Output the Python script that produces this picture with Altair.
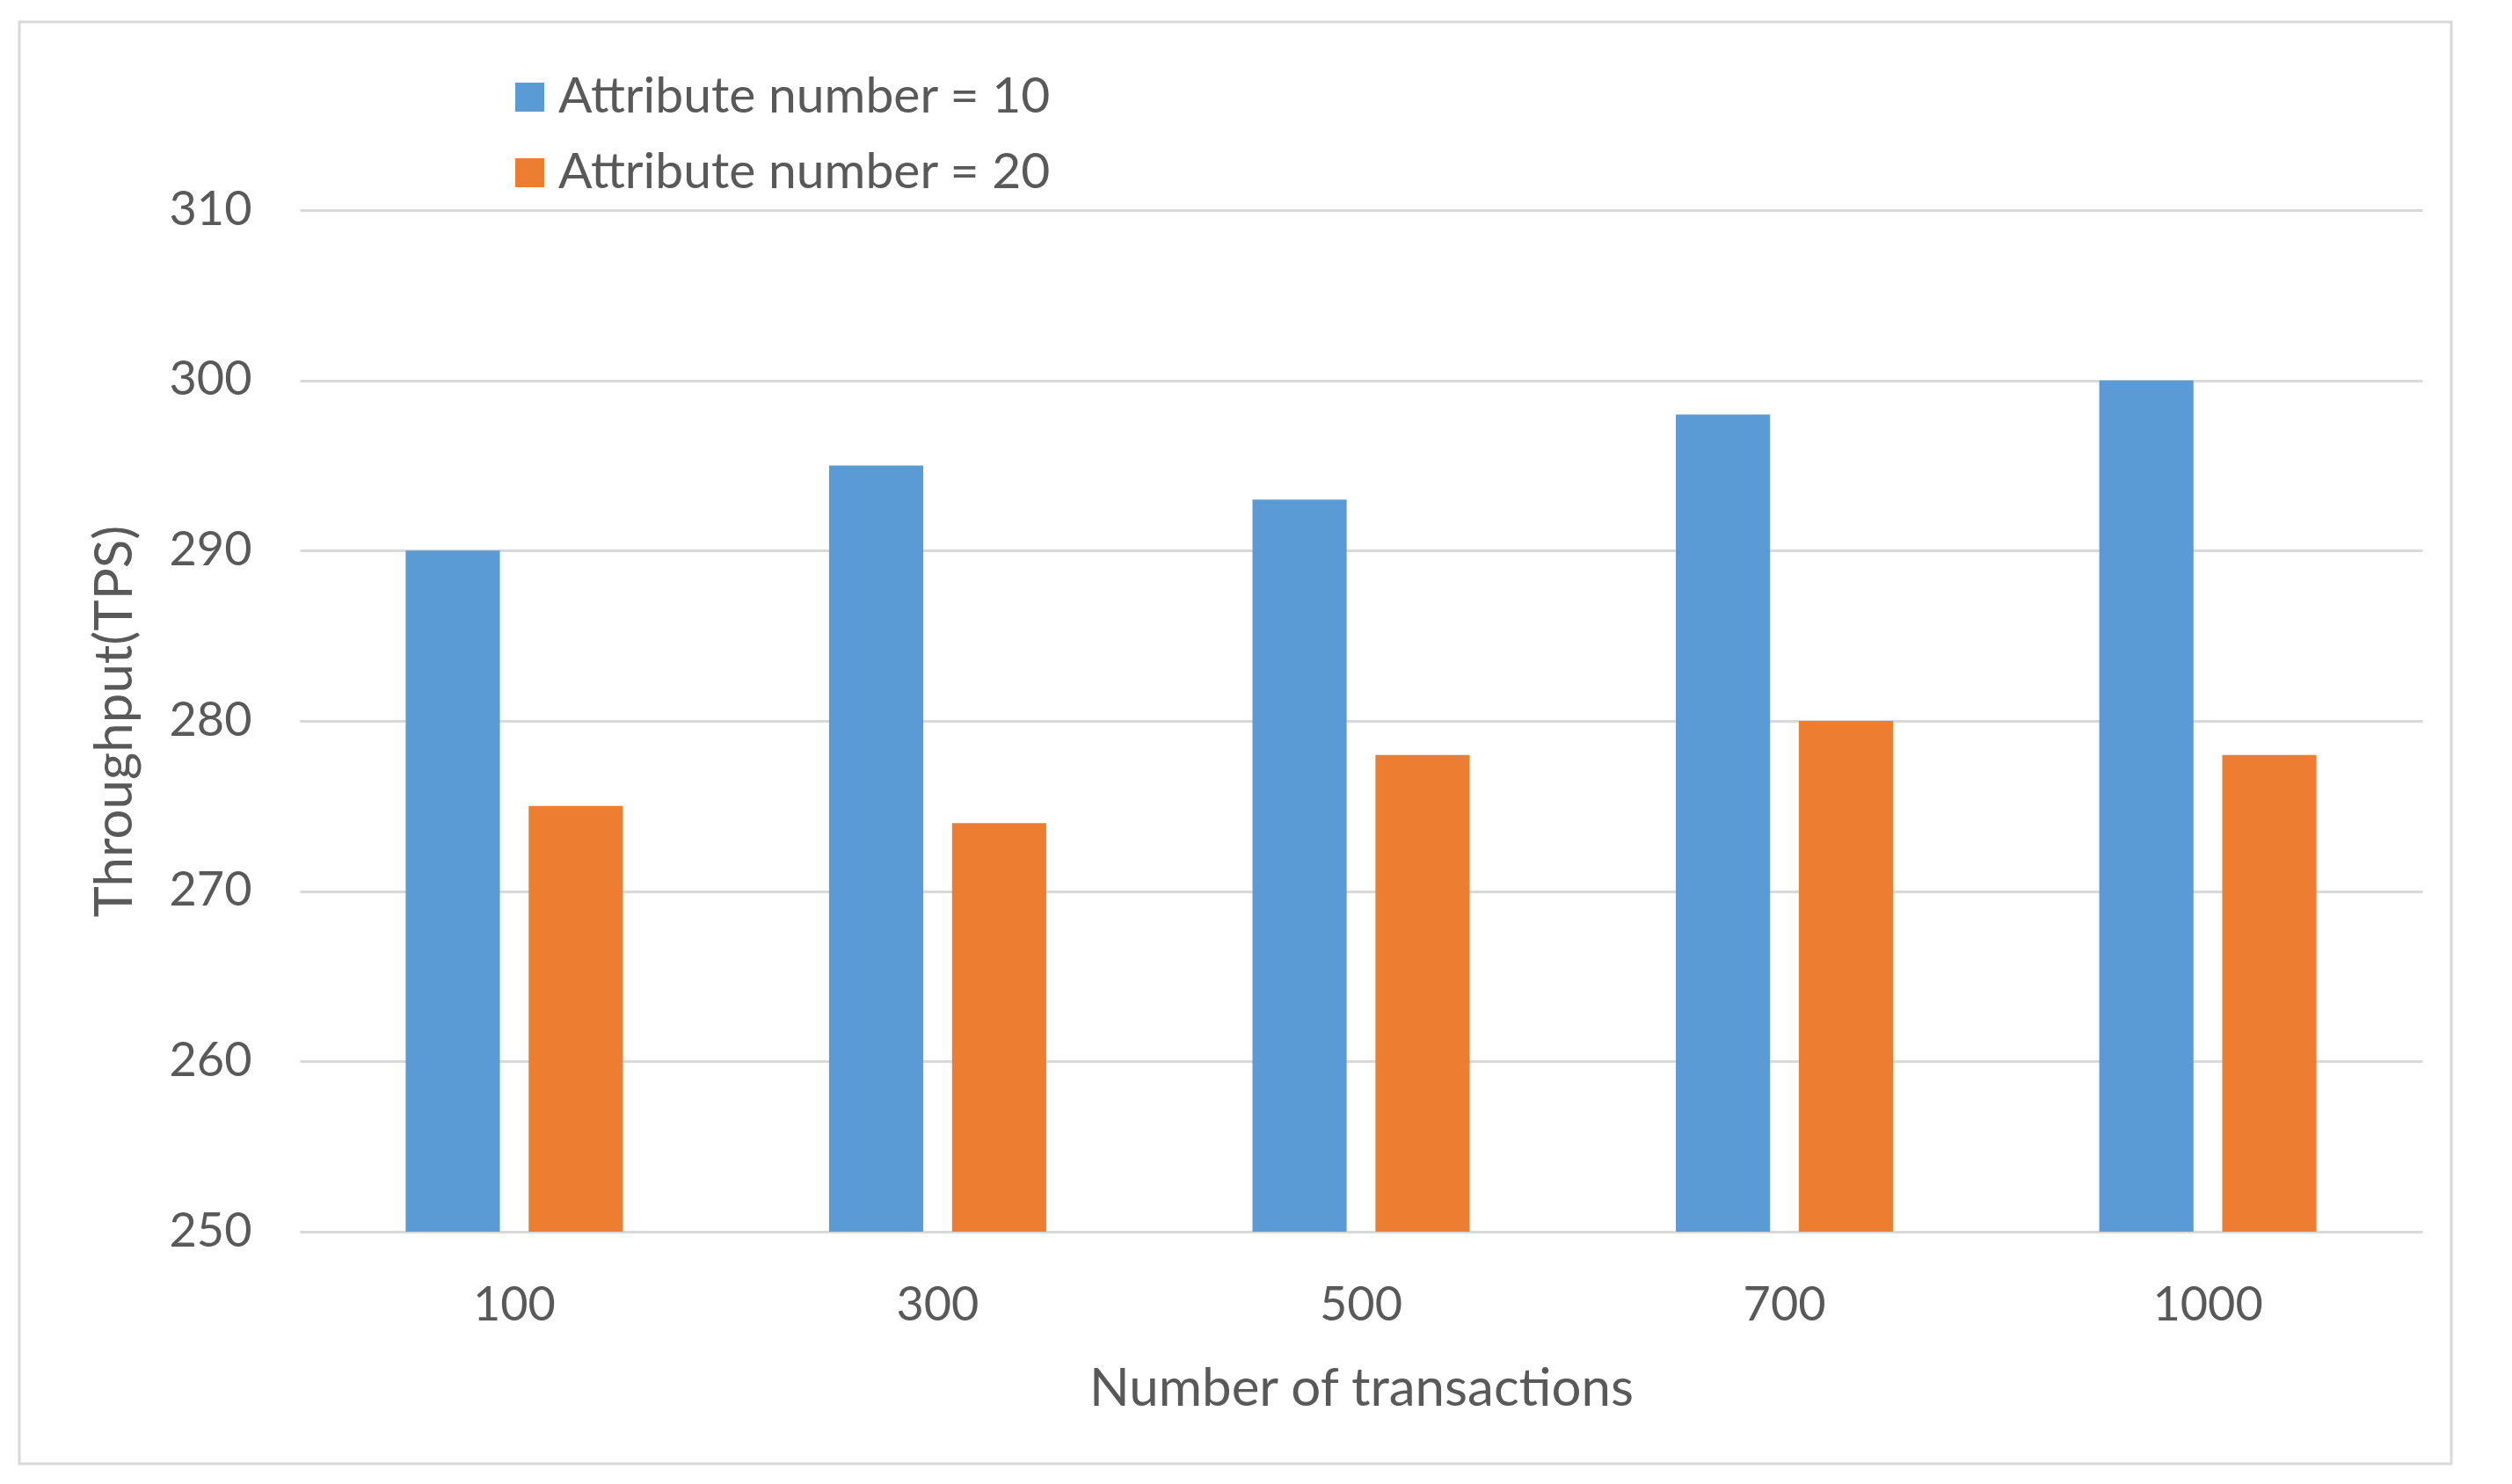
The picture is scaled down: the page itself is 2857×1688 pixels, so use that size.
import altair as alt
import pandas as pd

categories = ["100", "300", "500", "700", "1000"]
series_names = ["Attribute number = 10", "Attribute number = 20"]
attr10 = [290, 295, 293, 298, 300]
attr20 = [275, 274, 278, 280, 278]
y_ticks = [250, 260, 270, 280, 290, 300, 310]

rows = []
for c, v in zip(categories, attr10):
    rows.append({"tx": c, "series": series_names[0], "tps": v})
for c, v in zip(categories, attr20):
    rows.append({"tx": c, "series": series_names[1], "tps": v})
df = pd.DataFrame(rows)

FONT = "Lato"
TXT = "#595959"
GRID = "#D9D9D9"

bars = alt.Chart(df).mark_bar().encode(
    x=alt.X("tx:N", sort=categories,
            scale=alt.Scale(paddingInner=0.487, paddingOuter=0.25),
            axis=alt.Axis(title="Number of transactions", labelAngle=0, ticks=False,
                          domain=False, labelPadding=57, titlePadding=39,
                          labelFontSize=54, titleFontSize=60, labelColor=TXT,
                          titleColor=TXT, labelFont=FONT, titleFont=FONT,
                          titleFontWeight="normal", grid=False)),
    xOffset=alt.XOffset("series:N", sort=series_names,
                        scale=alt.Scale(paddingInner=0.234, paddingOuter=0)),
    y=alt.Y("tps:Q", scale=alt.Scale(domain=[250, 310], zero=False, nice=False),
            axis=alt.Axis(title="Throughput(TPS)", values=y_ticks, ticks=False,
                          domain=False, labelPadding=55, titlePadding=30,
                          labelFontSize=54, titleFontSize=60, labelColor=TXT,
                          titleColor=TXT, labelFont=FONT, titleFont=FONT,
                          titleFontWeight="normal", grid=True, gridColor=GRID,
                          gridWidth=3)),
    y2=alt.datum(250),
    color=alt.Color("series:N", sort=series_names,
                    scale=alt.Scale(domain=series_names, range=["#5B9BD5", "#ED7D31"]),
                    legend=alt.Legend(title=None, orient="none", legendX=233, legendY=-157,
                                      direction="vertical", symbolType="square",
                                      symbolSize=1089, symbolStrokeWidth=0,
                                      labelFontSize=57, labelFont=FONT, labelColor=TXT,
                                      labelLimit=0, rowPadding=28, labelOffset=4)),
)

border = alt.Chart(pd.DataFrame({"a": [0]})).mark_rect(
    fill=None, stroke=GRID, strokeWidth=3, clip=False
).encode(
    x=alt.value(-319), x2=alt.value(2447), y=alt.value(-214), y2=alt.value(1426)
)

chart = alt.layer(border, bars).properties(
    width=2414, height=1162,
    autosize=alt.AutoSizeParams(type="none"),
    padding={"left": 333, "top": 231, "right": 80, "bottom": 270},
).configure(background="white").configure_view(stroke=None, strokeWidth=0)

chart.save("out.html", embed_options={"renderer": "svg", "actions": False})
